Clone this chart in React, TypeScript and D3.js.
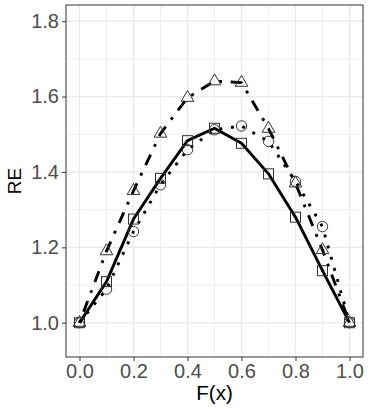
import React, { useEffect, useRef } from "react";
import * as d3 from "d3";

// F(x) grid points and RE values per series
const fx = [0, 0.1, 0.2, 0.3, 0.4, 0.5, 0.6, 0.7, 0.8, 0.9, 1.0];
const reSquare = [1.0, 1.109, 1.275, 1.383, 1.483, 1.516, 1.476, 1.395, 1.28, 1.138, 1.0];
const reCircle = [1.0, 1.089, 1.242, 1.366, 1.459, 1.512, 1.522, 1.481, 1.375, 1.255, 1.0];
const reTriangle = [1.0, 1.19, 1.35, 1.502, 1.597, 1.641, 1.637, 1.515, 1.37, 1.193, 1.0];
const xTicks = [0, 0.2, 0.4, 0.6, 0.8, 1.0];
const yTicks = [1.0, 1.2, 1.4, 1.6, 1.8];

const App = () => {
  const svgRef = useRef<SVGSVGElement | null>(null);

  useEffect(() => {
    const W = 371,
      H = 409;
    const margin = { top: 5, right: 8, bottom: 52, left: 66 };
    const width = W - margin.left - margin.right,
      height = H - margin.top - margin.bottom;
    const font = "Liberation Sans, Arial, sans-serif";

    const svgAux = d3.select(svgRef.current);
    svgAux.selectAll("*").remove();
    const svg = svgAux
      .attr("width", W)
      .attr("height", H)
      .append("g")
      .attr("transform", `translate(${margin.left},${margin.top})`);

    const x = d3.scaleLinear([-0.05, 1.05], [0, width]);
    const y = d3.scaleLinear([0.909, 1.843], [height, 0]);

    svg.append("rect").attr("width", width).attr("height", height).attr("fill", "white");

    // grid lines (minor then major)
    const minorX = d3.range(0, 1.01, 0.1);
    const minorY = d3.range(0.9, 1.85, 0.1).filter((v) => v > 0.909 && v < 1.843);
    svg
      .append("g")
      .selectAll("line")
      .data(minorX)
      .join("line")
      .attr("x1", (d) => x(d))
      .attr("x2", (d) => x(d))
      .attr("y1", 0)
      .attr("y2", height)
      .attr("stroke", "#EBEBEB")
      .attr("stroke-width", 0.8);
    svg
      .append("g")
      .selectAll("line")
      .data(minorY)
      .join("line")
      .attr("y1", (d) => y(d))
      .attr("y2", (d) => y(d))
      .attr("x1", 0)
      .attr("x2", width)
      .attr("stroke", "#EBEBEB")
      .attr("stroke-width", 0.8);
    svg
      .append("g")
      .selectAll("line")
      .data(xTicks)
      .join("line")
      .attr("x1", (d) => x(d))
      .attr("x2", (d) => x(d))
      .attr("y1", 0)
      .attr("y2", height)
      .attr("stroke", "#EBEBEB")
      .attr("stroke-width", 1.3);
    svg
      .append("g")
      .selectAll("line")
      .data(yTicks)
      .join("line")
      .attr("y1", (d) => y(d))
      .attr("y2", (d) => y(d))
      .attr("x1", 0)
      .attr("x2", width)
      .attr("stroke", "#EBEBEB")
      .attr("stroke-width", 1.3);

    // lines
    const line = d3
      .line<number>()
      .x((d, i) => x(fx[i]))
      .y((d) => y(d));
    const lw = 2.9;
    const series = [
      { data: reSquare, dash: null },
      { data: reCircle, dash: `${lw},${lw * 3}` },
      { data: reTriangle, dash: `${lw},${lw * 3},${lw * 4},${lw * 3}` },
    ];
    series.forEach((s) => {
      svg
        .append("path")
        .datum(s.data)
        .attr("fill", "none")
        .attr("stroke", "black")
        .attr("stroke-width", lw)
        .attr("stroke-linejoin", "round")
        .attr("stroke-dasharray", s.dash)
        .attr("d", line);
    });

    // points
    const pc = "#333";
    svg
      .append("g")
      .selectAll("rect")
      .data(reSquare)
      .join("rect")
      .attr("x", (d, i) => x(fx[i]) - 5)
      .attr("y", (d) => y(d) - 5)
      .attr("width", 10)
      .attr("height", 10)
      .attr("fill", "none")
      .attr("stroke", pc);
    svg
      .append("g")
      .selectAll("circle")
      .data(reCircle)
      .join("circle")
      .attr("cx", (d, i) => x(fx[i]))
      .attr("cy", (d) => y(d))
      .attr("r", 5.2)
      .attr("fill", "none")
      .attr("stroke", pc);
    const r = 4.7,
      t0 = 1.555 * r,
      t1 = 1.347 * r,
      t2 = 0.778 * r;
    svg
      .append("g")
      .selectAll("path")
      .data(reTriangle)
      .join("path")
      .attr("d", (d, i) => {
        const cx = x(fx[i]),
          cy = y(d);
        return `M${cx},${cy - t0}L${cx + t1},${cy + t2}L${cx - t1},${cy + t2}Z`;
      })
      .attr("fill", "none")
      .attr("stroke", pc);

    // panel border
    svg
      .append("rect")
      .attr("width", width)
      .attr("height", height)
      .attr("fill", "none")
      .attr("stroke", "#333333")
      .attr("stroke-width", 1);

    // axes
    const xAxis = d3.axisBottom(x).tickValues(xTicks).tickFormat(d3.format(".1f")).tickSize(4).tickPadding(3);
    const yAxis = d3.axisLeft(y).tickValues(yTicks).tickFormat(d3.format(".1f")).tickSize(4).tickPadding(3);
    const gx = svg.append("g").attr("transform", `translate(0,${height})`).call(xAxis);
    const gy = svg.append("g").call(yAxis);
    [gx, gy].forEach((g) => {
      g.select(".domain").remove();
      g.selectAll(".tick line").attr("stroke", "#333333");
      g.selectAll(".tick text")
        .attr("fill", "#4D4D4D")
        .style("font-family", font)
        .style("font-size", "20px");
    });

    // axis titles
    svg
      .append("text")
      .attr("x", width / 2)
      .attr("y", height + 43)
      .attr("text-anchor", "middle")
      .style("font-family", font)
      .style("font-size", "20.5px")
      .text("F(x)");
    svg
      .append("text")
      .attr("transform", `translate(${21 - margin.left},${height / 2}) rotate(-90)`)
      .attr("text-anchor", "middle")
      .style("font-family", font)
      .style("font-size", "19px")
      .text("RE");
  }, []);

  return <svg ref={svgRef} style={{ position: "absolute", left: 0, top: 0 }}></svg>;
};

export default App;
